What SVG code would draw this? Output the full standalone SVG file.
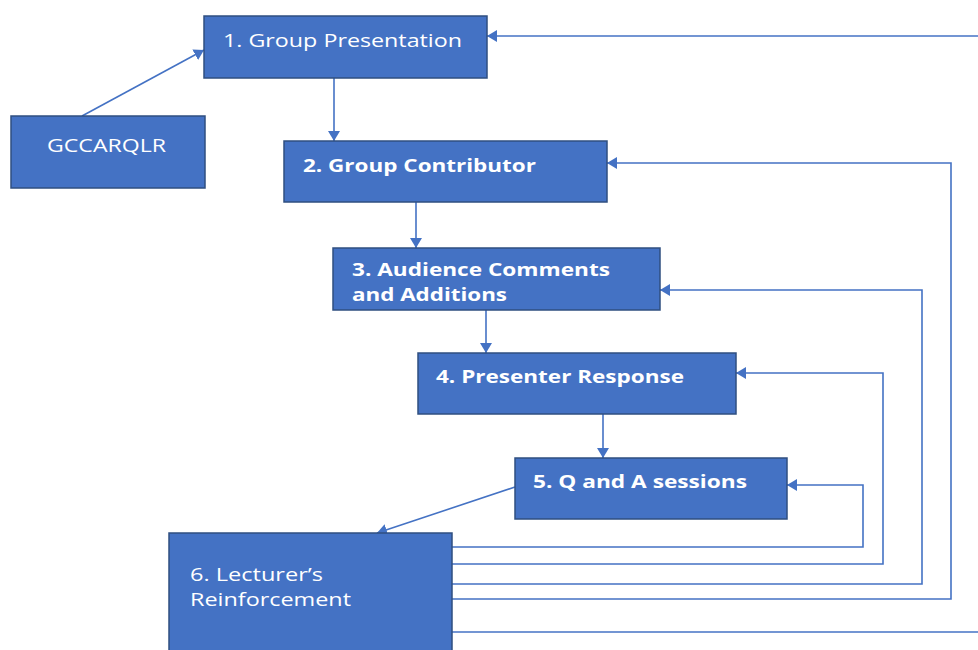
<svg xmlns="http://www.w3.org/2000/svg" width="978" height="650" viewBox="0 0 978 650">
<style>
.box{fill:#4472C4;stroke:#2F4F80;stroke-width:1.5}
.t{fill:#ffffff;font-family:"Open Sans","Noto Sans","Liberation Sans",sans-serif;font-size:18px}
.b{font-weight:bold}
.c{fill:none;stroke:#4472C4;stroke-width:1.6}
</style>
<defs>
<marker id="ah2" viewBox="0 0 10 12" refX="10" refY="6" markerWidth="10" markerHeight="12" markerUnits="userSpaceOnUse" orient="auto">
<path d="M0,0 L10,6 L0,12 z" fill="#4472C4"/>
</marker>
</defs>
<rect width="978" height="650" fill="#ffffff"/>
<g id="connectors">
<path class="c" d="M82,116 L204,50" marker-end="url(#ah2)"/>
<path class="c" d="M334,78 L334,141" marker-end="url(#ah2)"/>
<path class="c" d="M416,202 L416,248" marker-end="url(#ah2)"/>
<path class="c" d="M486,310 L486,353" marker-end="url(#ah2)"/>
<path class="c" d="M603,414 L603,458" marker-end="url(#ah2)"/>
<path class="c" d="M515,487 L377,533" marker-end="url(#ah2)"/>
<path class="c" d="M452,547 L863,547 L863,485 L787,485" marker-end="url(#ah2)"/>
<path class="c" d="M452,564 L883,564 L883,373 L736,373" marker-end="url(#ah2)"/>
<path class="c" d="M452,584 L922,584 L922,290 L660,290" marker-end="url(#ah2)"/>
<path class="c" d="M452,599 L951,599 L951,163 L607,163" marker-end="url(#ah2)"/>
<path class="c" d="M452,632 L980,632"/>
<path class="c" d="M980,36 L487,36" marker-end="url(#ah2)"/>
</g>
<g id="gccarqlr">
<rect class="box" x="11" y="116" width="194" height="72"/>
<text class="t" x="47" y="152" textLength="119" lengthAdjust="spacingAndGlyphs">GCCARQLR</text>
</g>
<g id="n1">
<rect class="box" x="204" y="16" width="283" height="62"/>
<text class="t" x="223" y="47" textLength="239" lengthAdjust="spacingAndGlyphs">1. Group Presentation</text>
</g>
<g id="n2">
<rect class="box" x="284" y="141" width="323" height="61"/>
<text class="t b" x="303" y="172" textLength="233" lengthAdjust="spacingAndGlyphs">2. Group Contributor</text>
</g>
<g id="n3">
<rect class="box" x="333" y="248" width="327" height="62"/>
<text class="t b" x="352" y="276" textLength="258" lengthAdjust="spacingAndGlyphs">3. Audience Comments</text>
<text class="t b" x="352" y="301" textLength="155" lengthAdjust="spacingAndGlyphs">and Additions</text>
</g>
<g id="n4">
<rect class="box" x="418" y="353" width="318" height="61"/>
<text class="t b" x="436" y="383" textLength="248" lengthAdjust="spacingAndGlyphs">4. Presenter Response</text>
</g>
<g id="n5">
<rect class="box" x="515" y="458" width="272" height="61"/>
<text class="t b" x="533" y="488" textLength="214" lengthAdjust="spacingAndGlyphs">5. Q and A sessions</text>
</g>
<g id="n6">
<rect class="box" x="169" y="533" width="283" height="130"/>
<text class="t" x="190" y="581" textLength="133" lengthAdjust="spacingAndGlyphs">6. Lecturer’s</text>
<text class="t" x="190" y="606" textLength="161" lengthAdjust="spacingAndGlyphs">Reinforcement</text>
</g>
</svg>
